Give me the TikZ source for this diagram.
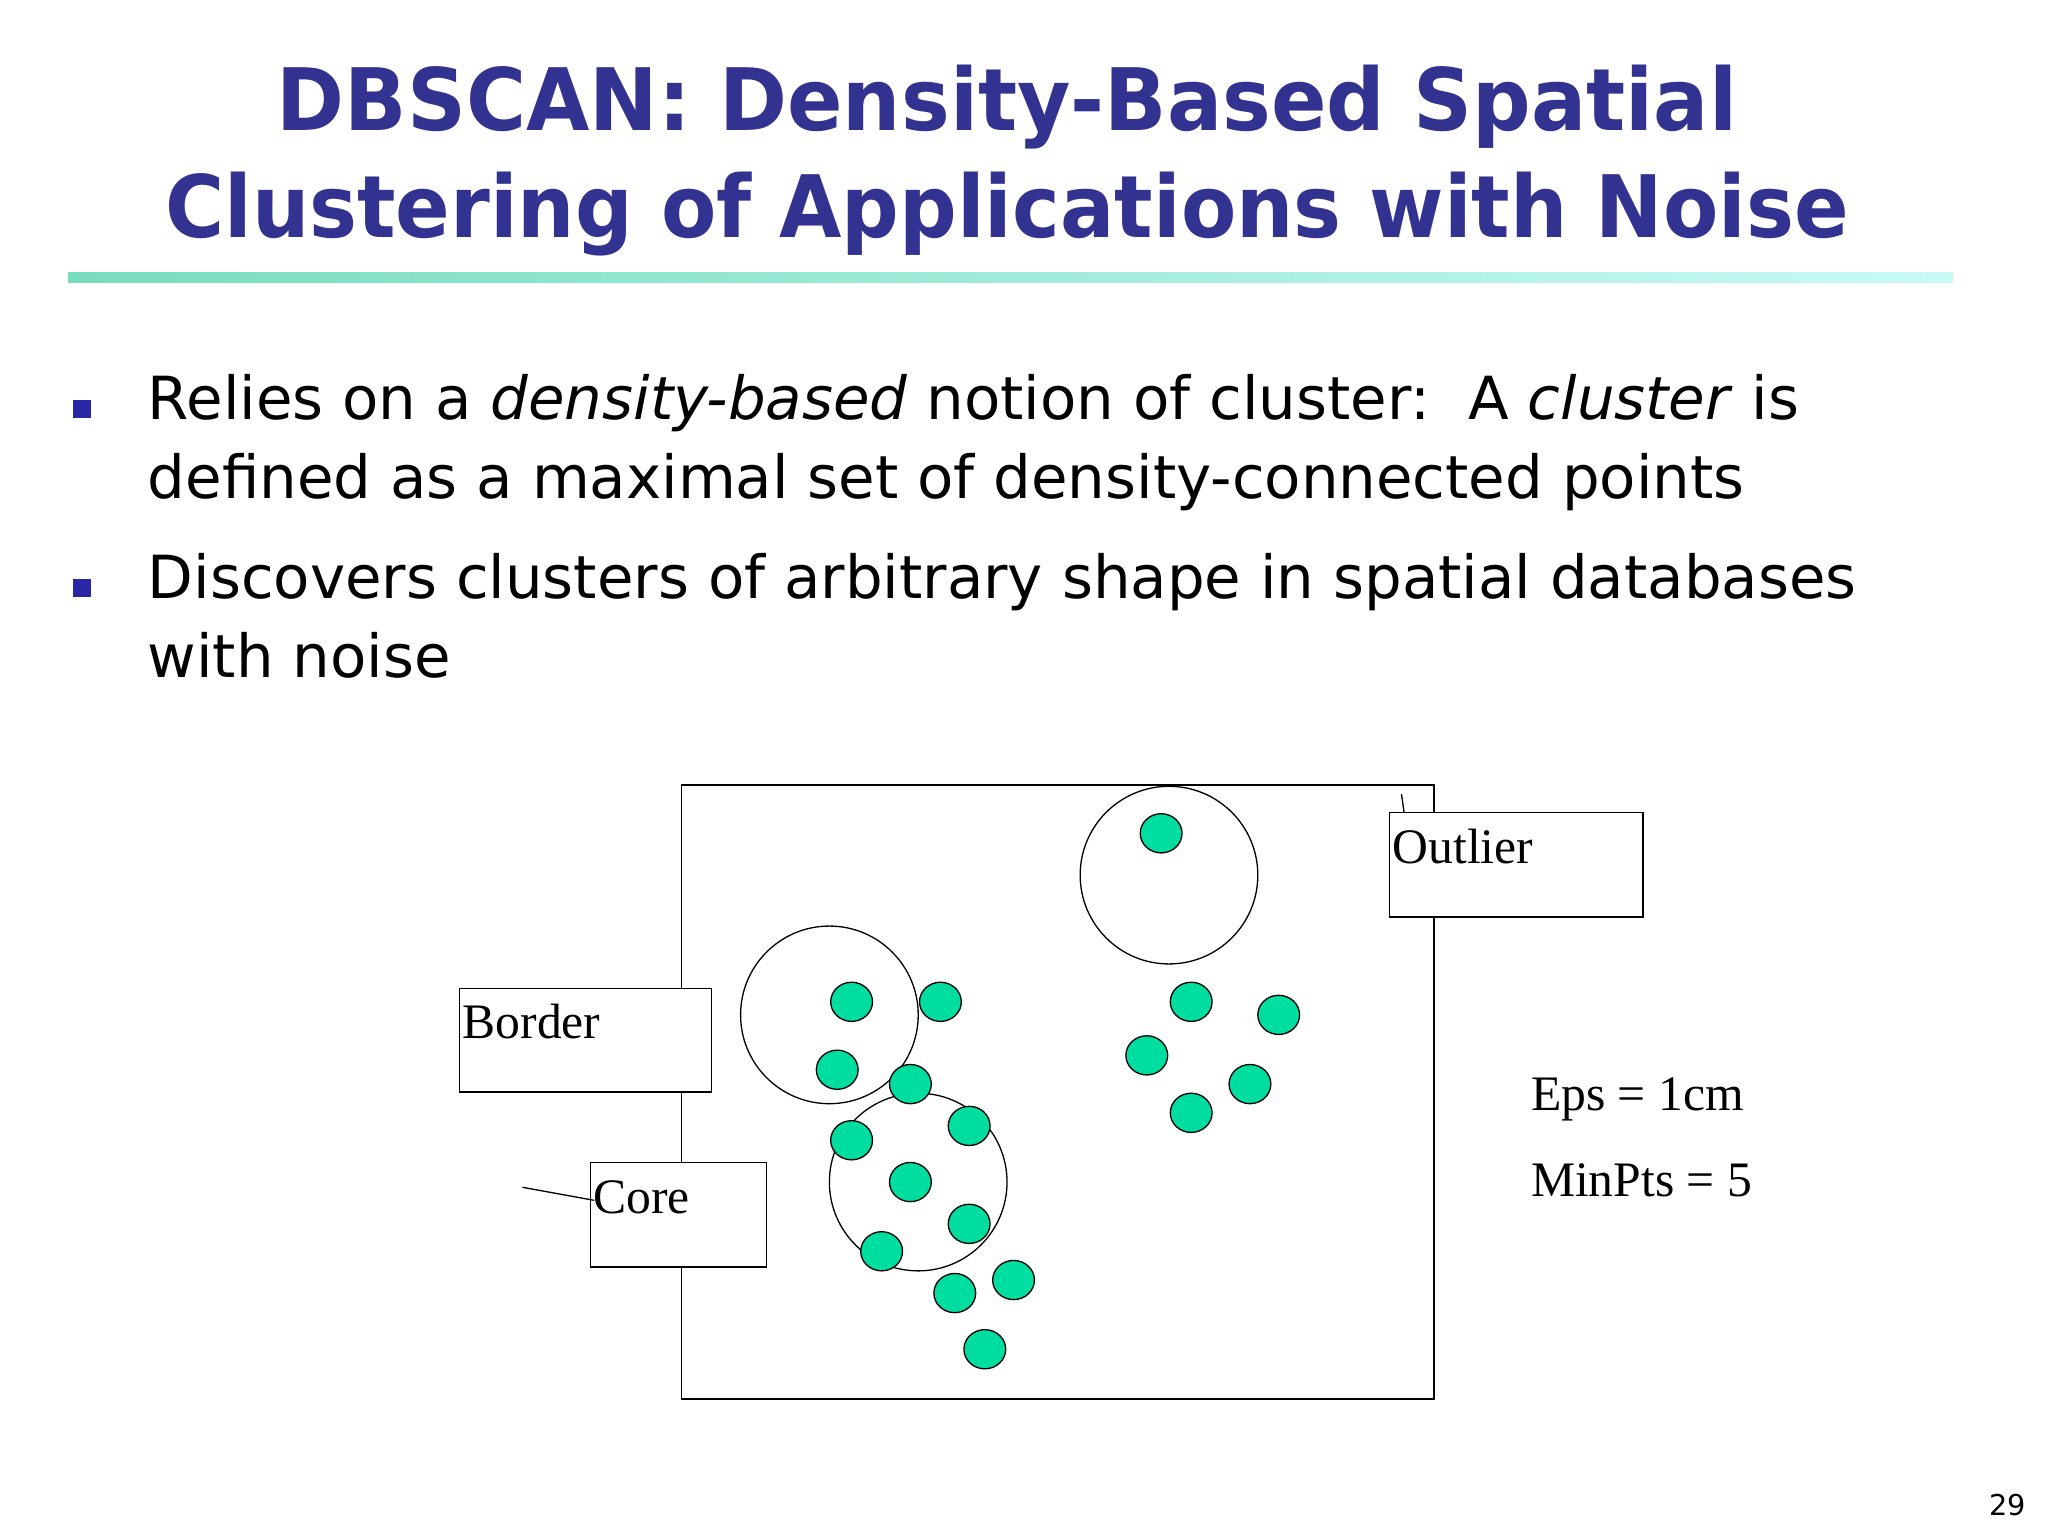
\documentclass[tikz,border=0pt]{standalone}
\usepackage{fontspec}
\setmainfont{DejaVu Sans}
\newfontfamily\tms{Liberation Serif}
\begin{document}
\begin{tikzpicture}[x=1pt,y=-1pt,
  dot/.style={draw=black,fill={rgb,255:red,0;green,221;blue,160},line width=1pt},
  lbox/.style={draw=black,fill=white,line width=1pt},
  lbl/.style={font=\tms\fontsize{38}{40}\selectfont,anchor=base west,inner sep=0pt},
  body/.style={font=\fontsize{45.5}{60}\selectfont,anchor=base west,inner sep=0pt}]
\definecolor{ttl}{RGB}{50,50,145}
\useasboundingbox (0,0) rectangle (1568,1176);
\node[text=ttl,align=center] (title) at (771,123) {\scalebox{0.95}[1]{\bfseries\fontsize{66}{80}\selectfont DBSCAN: Density-Based Spatial}\\[16pt]\scalebox{0.935}[1]{\bfseries\fontsize{66}{80}\selectfont Clustering of Applications with Noise}};
\shade[left color={rgb,255:red,120;green,220;blue,190},right color={rgb,255:red,200;green,250;blue,245}] (52,209) rectangle (1495,216);
\fill[ttl!80!blue] (56,306) rectangle (70,320);
\fill[ttl!80!blue] (56,443) rectangle (70,457);
\node[body] (l1) at (113,321) {Relies on a \textit{density-based} notion of cluster:\ \ A \textit{cluster} is};
\node[body] (l2) at (113,382) {defined as a maximal set of density-connected points};
\node[body] (l3) at (113,458) {Discovers clusters of arbitrary shape in spatial databases};
\node[body] (l4) at (113,519) {with noise};
\draw[line width=1pt] (522,601) rectangle (1098,1071);
\draw[line width=1pt] (635,777) circle (68);
\draw[line width=1pt] (703,905) circle (68);
\draw[line width=1pt] (895,670) circle (68);
\foreach \p in {(652,767),(720,767),(641,819),(697,830),(742,862),(652,873),(697,905),(742,937),(675,958),(731,990),(776,980),(754,1033),(889,638),(912,767),(979,777),(878,808),(957,830),(912,852)}
  \draw[dot] \p ellipse (16 and 15);
\draw[lbox] (1064,622) rectangle (1258,702);
\draw[lbox] (352,757) rectangle (545,836);
\draw[lbox] (452,890) rectangle (587,970);
\node[lbl] (outl) at (1066,661) {Outlier};
\node[lbl] (bord) at (354,795) {Border};
\node[lbl] (core) at (454,929) {Core};
\coordinate (oa) at (1073,608);
\coordinate (ca) at (400,909);
\draw[line width=1pt] (oa) -- (1075,622);
\draw[line width=1pt] (ca) -- (455,919);
\node[lbl] (eps) at (1172,850) {Eps = 1cm};
\node[lbl] (mp) at (1172,916) {MinPts = 5};
\node[font=\fontsize{22}{24}\selectfont] (pg) at (1537,1152) {29};
\end{tikzpicture}
\end{document}
